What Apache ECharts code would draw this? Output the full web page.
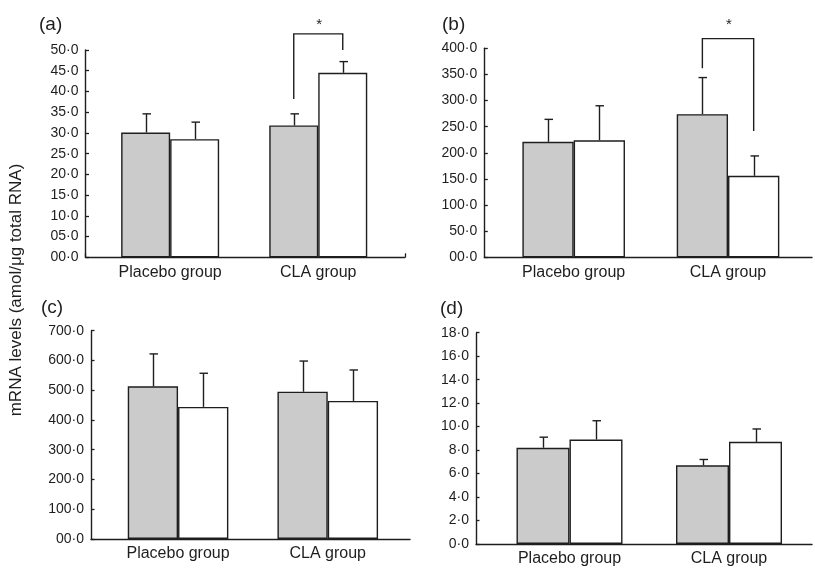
<!DOCTYPE html>
<html><head><meta charset="utf-8">
<script src="https://cdn.jsdelivr.net/npm/echarts@6/dist/echarts.min.js"></script>
<style>html,body{margin:0;padding:0;background:#fff}#c{width:815px;height:568px}</style>
</head><body><div id="c"></div><script>
// ---- data ----
const categories = ['Placebo group', 'CLA group'];

const aGray = [30.1, 31.8], aGraySD = [4.5, 2.8];
const aWhite = [28.5, 44.5], aWhiteSD = [4.1, 2.7];
const aTicks = ['00·0','05·0','10·0','15·0','20·0','25·0','30·0','35·0','40·0','45·0','50·0'];
const aBracket = [38.2, 50.0, 53.9, 56.0]; // left end, right end, top, star (CLA group)

const bGray = [221, 274], bGraySD = [43, 70];
const bWhite = [224, 156], bWhiteSD = [66, 38];
const bTicks = ['00·0','50·0','100·0','150·0','200·0','250·0','300·0','350·0','400·0'];
const bBracket = [361.7, 241.8, 418.5, 444];

const cGray = [513, 495], cGraySD = [109, 103];
const cWhite = [444, 464], cWhiteSD = [113, 104];
const cTicks = ['00·0','100·0','200·0','300·0','400·0','500·0','600·0','700·0'];

const dGray = [8.2, 6.7], dGraySD = [0.9, 0.5];
const dWhite = [8.9, 8.7], dWhiteSD = [1.6, 1.1];
const dTicks = ['0·0','2·0','4·0','6·0','8·0','10·0','12·0','14·0','16·0','18·0'];

const panelLetters = ['(a)', '(b)', '(c)', '(d)'];
const yTitle = 'mRNA levels (amol/μg total RNA)';

// ---- layout / style ----
const INK = '#1e1e1e';
const panels = [
  {gray:aGray, graySD:aGraySD, white:aWhite, whiteSD:aWhiteSD, ticks:aTicks, interval:5, bracket:aBracket,
   barsLeft:96.1, barsWidth:296.2, axLeft:85.5, axWidth:319.5, top:50, height:207.3, bw:49, endTick:true},
  {gray:bGray, graySD:bGraySD, white:bWhite, whiteSD:bWhiteSD, ticks:bTicks, interval:50, bracket:bBracket,
   barsLeft:496.5, barsWidth:308.7, axLeft:484.3, axWidth:327.7, top:48.3, height:209, bw:51.3},
  {gray:cGray, graySD:cGraySD, white:cWhite, whiteSD:cWhiteSD, ticks:cTicks, interval:100,
   barsLeft:103.2, barsWidth:299.4, axLeft:91, axWidth:319, top:330.7, height:208.3, bw:50.3},
  {gray:dGray, graySD:dGraySD, white:dWhite, whiteSD:dWhiteSD, ticks:dTicks, interval:2,
   barsLeft:489.75, barsWidth:319, axLeft:476, axWidth:336, top:332.7, height:211.3, bw:53}
];

function errItem(side, bw) {
  return function (params, api) {
    const ci = api.value(0), v = api.value(1), sd = api.value(2);
    const p0 = api.coord([ci, v]);
    const p1 = api.coord([ci, v + sd]);
    const x = Math.round(p0[0] + side * bw / 2) + 0.5;
    return {type: 'group', children: [
      {type: 'line', shape: {x1: x, y1: p0[1], x2: x, y2: p1[1]}, style: {stroke: INK, lineWidth: 1.4}},
      {type: 'line', shape: {x1: x - 4, y1: p1[1], x2: x + 4.5, y2: p1[1]}, style: {stroke: INK, lineWidth: 1.4}}
    ]};
  };
}
function bracketItem(bw) {
  return function (params, api) {
    const ci = api.value(0);
    const l = api.coord([ci, api.value(1)]);
    const r = api.coord([ci, api.value(2)]);
    const t = api.coord([ci, api.value(3)]);
    const s = api.coord([ci, api.value(4)]);
    const xl = l[0] - bw / 2, xr = l[0] + bw / 2;
    return {type: 'group', children: [
      {type: 'polyline', shape: {points: [[xl, l[1]], [xl, t[1]], [xr, t[1]], [xr, r[1]]]},
       style: {stroke: INK, fill: 'none', lineWidth: 1.4}},
      {type: 'text', x: (xl + xr) / 2 + 1, y: s[1],
       style: {text: '*', align: 'center', verticalAlign: 'middle', fontSize: 15, fill: INK, fontFamily: 'Liberation Sans'}}
    ]};
  };
}

const grid = [], xAxis = [], yAxis = [], series = [];
panels.forEach((p, k) => {
  const max = p.interval * (p.ticks.length - 1);
  const gBars = grid.length, gAx = gBars + 1;
  grid.push({left: p.barsLeft, width: p.barsWidth, top: p.top, height: p.height});
  grid.push({left: p.axLeft, width: p.axWidth, top: p.top, height: p.height});
  xAxis.push({type: 'category', gridIndex: gBars, data: categories,
    axisLine: {show: false}, axisTick: {show: false},
    axisLabel: {color: INK, fontSize: 16, fontFamily: 'Liberation Sans', margin: 7}});
  yAxis.push({type: 'value', gridIndex: gBars, min: 0, max: max, interval: p.interval, show: false});
  xAxis.push({type: 'value', gridIndex: gAx, min: 0, max: 1, interval: 1,
    axisLine: {show: true, lineStyle: {color: INK, width: 1.4}},
    axisTick: {show: !!p.endTick, inside: true, length: 4, lineStyle: {color: INK, width: 1.3}},
    axisLabel: {show: false}, splitLine: {show: false}});
  yAxis.push({type: 'value', gridIndex: gAx, min: 0, max: max, interval: p.interval,
    axisLine: {show: true, lineStyle: {color: INK, width: 1.4}},
    axisTick: {show: true, inside: true, length: 3.5, lineStyle: {color: INK, width: 1.3}},
    splitLine: {show: false},
    axisLabel: {color: INK, fontSize: 14, fontFamily: 'Liberation Sans', margin: 7,
      formatter: (v, i) => p.ticks[Math.round(v / p.interval)]}});
  const xi = xAxis.length - 2, yi = yAxis.length - 2;
  series.push({type: 'bar', xAxisIndex: xi, yAxisIndex: yi, data: p.gray, barWidth: p.bw, barGap: '0%',
    itemStyle: {color: '#cbcbcb', borderColor: INK, borderWidth: 1.4}, silent: true, animation: false});
  series.push({type: 'bar', xAxisIndex: xi, yAxisIndex: yi, data: p.white, barWidth: p.bw, barGap: '0%',
    itemStyle: {color: '#ffffff', borderColor: INK, borderWidth: 1.4}, silent: true, animation: false});
  series.push({type: 'custom', xAxisIndex: xi, yAxisIndex: yi, renderItem: errItem(-1, p.bw), z: 5, clip: false,
    data: categories.map((c, i) => [i, p.gray[i], p.graySD[i]]), animation: false});
  series.push({type: 'custom', xAxisIndex: xi, yAxisIndex: yi, renderItem: errItem(1, p.bw), z: 5, clip: false,
    data: categories.map((c, i) => [i, p.white[i], p.whiteSD[i]]), animation: false});
  if (p.bracket) {
    series.push({type: 'custom', xAxisIndex: xi, yAxisIndex: yi, renderItem: bracketItem(p.bw), z: 5, clip: false,
      data: [[1, p.bracket[0], p.bracket[1], p.bracket[2], p.bracket[3]]], animation: false});
  }
});

const letterPos = [[39, 25], [442, 25], [41, 308], [440, 309]];
const graphic = panelLetters.map((t, i) => ({type: 'text', x: letterPos[i][0], y: letterPos[i][1],
  style: {text: t, fontSize: 19, fontFamily: 'Liberation Sans', fill: INK, verticalAlign: 'middle'}}));
graphic.push({type: 'text', x: 16, y: 290, rotation: Math.PI / 2,
  style: {text: yTitle, fontSize: 17, fontFamily: 'Liberation Sans', fill: INK, align: 'center', verticalAlign: 'middle'}});

const chart = echarts.init(document.getElementById('c'), null, {renderer: 'canvas'});
chart.setOption({animation: false, grid, xAxis, yAxis, series, graphic});
</script></body></html>
